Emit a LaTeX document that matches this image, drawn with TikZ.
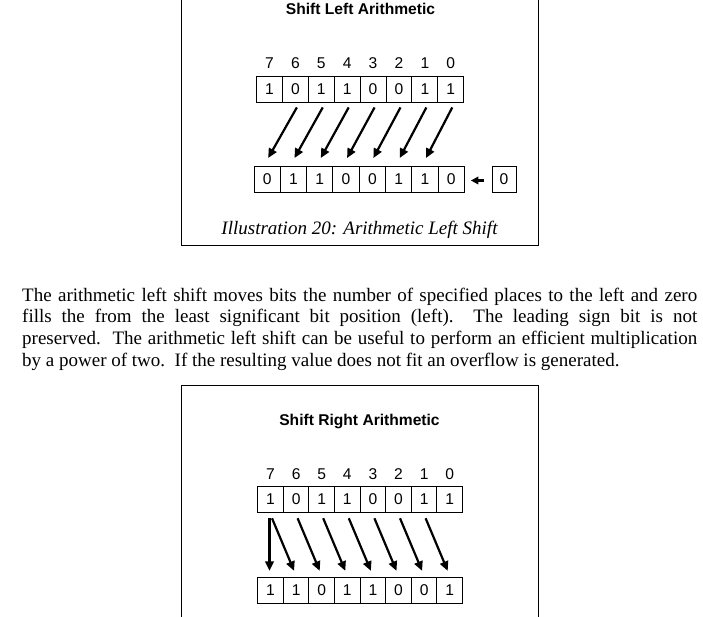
\documentclass[tikz,border=0pt]{standalone}
\usepackage{fontspec}
\setmainfont{Liberation Serif}
\setsansfont{Liberation Sans}
\usetikzlibrary{arrows.meta, positioning, calc}

\begin{document}
\begin{tikzpicture}[x=1pt, y=-1pt,
    bitcell/.style={draw, line width=0.9pt, minimum width=25.9pt, minimum height=26pt, inner sep=0pt, font=\sffamily\fontsize{15.6}{18}\selectfont},
    bitnum/.style={inner sep=0pt, font=\sffamily\fontsize{15.6}{18}\selectfont},
    boxtitle/.style={inner sep=0pt, anchor=base, font=\sffamily\bfseries\fontsize{15.6}{18}\selectfont},
    boxframe/.style={line width=0.9pt},
    shiftarrow/.style={line width=2.2pt, -{Triangle[length=9.5pt, width=8.5pt]}},
    para/.style={inner sep=0pt, text width=675pt, align=justify, font=\fontsize{19}{21.7}\selectfont\frenchspacing}]
  \useasboundingbox (0,0) rectangle (703,617);

  % shift left figure
  \draw[boxframe] (181,0) -- (181,245) -- (538,245) -- (538,0);
  \node[boxtitle] (ltitle) at (360.5,15) {Shift Left Arithmetic};
  \foreach \v [count=\p from 0] in {1,0,1,1,0,0,1,1} {
    \pgfmathtruncatemacro{\k}{7-\p}
    \node[bitcell] (la\k) at (269.45+25.9*\p, 89) {\v};
    \node[bitnum, above=6.5pt of la\k] (ln\k) {\k};
  }
  \foreach \v [count=\p from 0] in {0,1,1,0,0,1,1,0} {
    \pgfmathtruncatemacro{\k}{7-\p}
    \node[bitcell, minimum width=26.3pt] (lb\k) at (267.15+26.3*\p, 179) {\v};
  }
  \node[bitcell, minimum width=24pt] (lz) at (504,179) {0};
  \foreach \k in {0,...,6} {
    \pgfmathtruncatemacro{\j}{\k+1}
    \draw[shiftarrow] ($(la\k.south)+(1.5,5)$) -- ($(lb\j.north)+(1,-7.5)$);
  }
  \draw[line width=2.2pt, -{Triangle[length=7.5pt, width=7.5pt]}] ($(lz.west)+(-8,1.5)$) -- ($(lb0.east)+(6,1.5)$);
  \node[inner sep=0pt, anchor=base, font=\itshape\fontsize{19}{22}\selectfont] (lcap) at (359.5,235) {Illustration 20: Arithmetic Left Shift};

  % text between the figures
  \node[para, anchor=north west] (txt) at (22,287.5) {The arithmetic left shift moves bits the number of specified places to the left and zero\linebreak
    fills the from the least significant bit position (left).\ \ The leading sign bit is not\linebreak
    preserved.\ \ The arithmetic left shift can be useful to perform an efficient multiplication\linebreak
    by a power of two.\ \ If the resulting value does not fit an overflow is generated.};

  % shift right figure
  \draw[boxframe] (181,617) -- (181,385) -- (538,385) -- (538,617);
  \node[boxtitle] (rtitle) at (359.5,425) {Shift Right Arithmetic};
  \foreach \v [count=\p from 0] in {1,0,1,1,0,0,1,1} {
    \pgfmathtruncatemacro{\k}{7-\p}
    \node[bitcell, minimum width=25.6pt] (ra\k) at (270.5+25.6*\p, 499.3) {\v};
    \node[bitnum, above=6.5pt of ra\k] (rn\k) {\k};
  }
  \foreach \v [count=\p from 0] in {1,1,0,1,1,0,0,1} {
    \pgfmathtruncatemacro{\k}{7-\p}
    \node[bitcell, minimum width=25.6pt] (rb\k) at (270.5+25.6*\p, 590.3) {\v};
  }
  \draw[shiftarrow] ($(ra7.south)+(-1,5.5)$) -- ($(rb7.north)+(-1,-6)$);
  \foreach \k in {1,...,7} {
    \pgfmathtruncatemacro{\j}{\k-1}
    \draw[shiftarrow] ($(ra\k.south)+(1.5,5.5)$) -- ($(rb\j.north)+(-2,-6)$);
  }
\end{tikzpicture}
\end{document}
